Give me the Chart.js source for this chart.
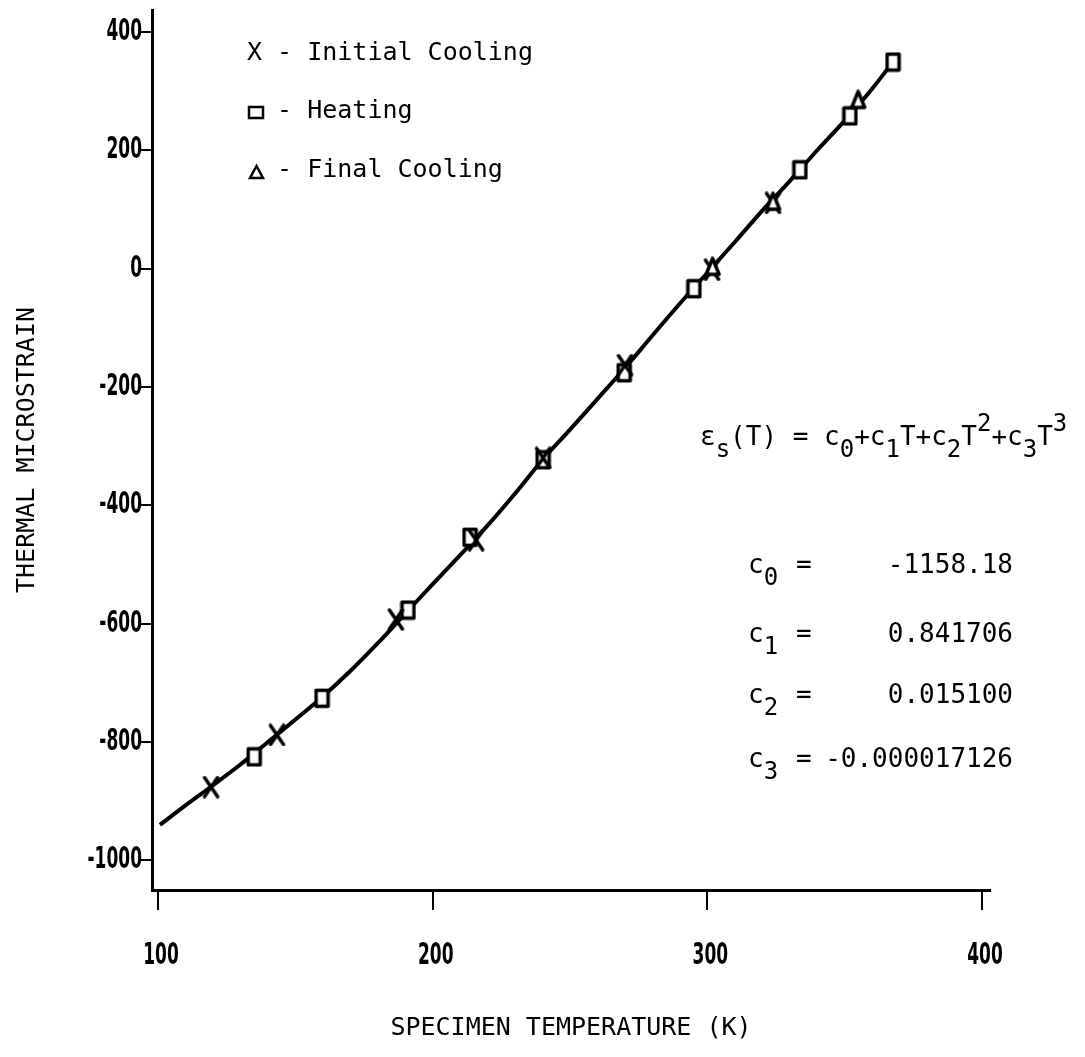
<!DOCTYPE html>
<html>
<head>
<meta charset="utf-8">
<script src="https://cdn.jsdelivr.net/npm/chart.js@4.4.1/dist/chart.umd.min.js"></script>
<style>
  html, body { margin: 0; padding: 0; background: #fff; }
  #wrap { width: 1085px; height: 1057px; position: relative; }
</style>
</head>
<body>
<div id="wrap"><canvas id="chart"></canvas></div>
<script>
'use strict';

// fitted curve
const curveT = [100.7, 110, 120, 130, 140, 150, 160, 170, 180, 190, 200, 210, 220, 230, 240, 250, 260, 270, 280, 290, 300, 310, 320, 330, 340, 350, 360, 368];
const curveStrain = [-940, -907, -873, -838, -800, -762, -723, -680, -633, -583, -533, -484, -434, -380, -323, -272, -220, -168, -113, -59, -7, 45, 98, 148, 200, 250, 304, 352];

// measured points
const coolT = [119.3, 143.3, 186.6, 215.8, 240.2, 270.0, 301.7, 323.9];
const coolStrain = [-876, -788, -593, -459, -320, -163, -2, 111];
const heatT = [135.0, 159.7, 191.0, 213.6, 240.2, 269.7, 295.1, 333.7, 351.9, 367.6];
const heatStrain = [-825, -726, -577, -454, -323, -176, -34, 167, 258, 349];
const finalT = [301.9, 323.9, 354.9];
const finalStrain = [3, 113, 285];

const xTicks = [100, 200, 300, 400];
const yTicks = [400, 200, 0, -200, -400, -600, -800, -1000];

const coefNames = ['0', '1', '2', '3'];
const coefValues = ['-1158.18', '0.841706', '0.015100', '-0.000017126'];

const MONO = '"DejaVu Sans Mono", "Liberation Mono", monospace';

const toPoints = (xs, ys) => xs.map((x, i) => ({ x: x, y: ys[i] }));

// hand-drawn looking markers
function markerCanvas(w, h, draw) {
    const c = document.createElement('canvas');
    c.width = w;
    c.height = h;
    const g = c.getContext('2d');
    g.strokeStyle = '#000';
    g.fillStyle = '#fff';
    g.lineWidth = 3.5;
    g.lineCap = 'round';
    g.lineJoin = 'round';
    draw(g, w, h);
    return c;
}
const boxMark = markerCanvas(17, 21, (g, w, h) => {
    g.fillRect(2, 2, w - 4, h - 4);
    g.strokeRect(2.5, 2.5, w - 5, h - 5);
});
const crossMark = markerCanvas(19, 23, (g, w, h) => {
    g.beginPath();
    g.moveTo(3, 2); g.lineTo(w - 3, h - 2);
    g.moveTo(w - 3, 2); g.lineTo(3, h - 2);
    g.stroke();
});
const triMark = markerCanvas(19, 21, (g, w, h) => {
    g.beginPath();
    g.moveTo(w / 2, 2); g.lineTo(w - 3, h - 3); g.lineTo(3, h - 3);
    g.closePath();
    g.fill();
    g.stroke();
});

// tick labels: tall, narrow bold digits, placed through the scales
const squeezedTicks = {
    id: 'squeezedTicks',
    afterDraw(chart) {
        const { ctx, scales } = chart;
        ctx.save();
        ctx.fillStyle = '#000';
        ctx.font = 'bold 31px "DejaVu Sans", sans-serif';
        ctx.textBaseline = 'middle';
        scales.y.ticks.forEach(t => {
            ctx.save();
            ctx.translate(142, scales.y.getPixelForValue(t.value));
            ctx.scale(0.55, 1);
            ctx.textAlign = 'right';
            ctx.fillText(String(t.value), 0, 0);
            ctx.restore();
        });
        scales.x.ticks.forEach(t => {
            ctx.save();
            ctx.translate(scales.x.getPixelForValue(t.value) + 3, 956);
            ctx.scale(0.55, 1);
            ctx.textAlign = 'center';
            ctx.fillText(String(t.value), 0, 0);
            ctx.restore();
        });
        ctx.restore();
    }
};

const notes = {
    id: 'notes',
    afterDraw(chart) {
        const ctx = chart.ctx;
        const main = '26px ' + MONO;
        const small = '24px ' + MONO;
        ctx.save();
        ctx.fillStyle = '#000';
        ctx.strokeStyle = '#000';
        ctx.textBaseline = 'alphabetic';

        // legend
        ctx.font = '25px ' + MONO;
        ctx.fillText('X - Initial Cooling', 247, 60);
        ctx.fillText('  - Heating', 247, 118);
        ctx.fillText('  - Final Cooling', 247, 177);
        ctx.lineWidth = 2.5;
        ctx.strokeRect(249, 107, 14, 11);
        ctx.beginPath();
        ctx.moveTo(250, 178);
        ctx.lineTo(263, 178);
        ctx.lineTo(256.5, 166);
        ctx.closePath();
        ctx.stroke();

        // equation
        const run = (parts, x, y) => {
            for (const [t, kind] of parts) {
                ctx.font = kind ? small : main;
                const dy = kind === 'sub' ? 12 : kind === 'sup' ? -14 : 0;
                ctx.fillText(t, x, y + dy);
                x += ctx.measureText(t).width;
            }
            return x;
        };
        run([['ε'], ['s', 'sub'], ['(T) = c'], ['0', 'sub'], ['+c'], ['1', 'sub'], ['T+c'], ['2', 'sub'],
             ['T'], ['2', 'sup'], ['+c'], ['3', 'sub'], ['T'], ['3', 'sup']], 700, 445);

        const rows = [573, 642, 703, 767];
        coefNames.forEach((n, i) => {
            ctx.textAlign = 'left';
            run([['c'], [n, 'sub']], 748, rows[i]);
            ctx.font = main;
            ctx.fillText('=', 796, rows[i]);
            ctx.textAlign = 'right';
            ctx.fillText(coefValues[i], 1013, rows[i]);
        });
        ctx.restore();
    }
};

function renderChart() {
    const ctx = document.getElementById('chart').getContext('2d');
    const titleFont = { family: MONO, size: 25 };

    new Chart(ctx, {
        type: 'scatter',
        data: {
            datasets: [
                {
                    type: 'line',
                    label: 'fit',
                    data: toPoints(curveT, curveStrain),
                    borderColor: '#000',
                    borderWidth: 4,
                    pointRadius: 0,
                    cubicInterpolationMode: 'monotone',
                    fill: false,
                    order: 5
                },
                {
                    label: 'Heating',
                    data: toPoints(heatT, heatStrain),
                    pointStyle: boxMark,
                    pointRadius: 9,
                    order: 2
                },
                {
                    label: 'Initial Cooling',
                    data: toPoints(coolT, coolStrain),
                    pointStyle: crossMark,
                    pointRadius: 9,
                    order: 1
                },
                {
                    label: 'Final Cooling',
                    data: toPoints(finalT, finalStrain),
                    pointStyle: triMark,
                    pointRadius: 9,
                    order: 0
                }
            ]
        },
        options: {
            responsive: true,
            maintainAspectRatio: false,
            animation: false,
            layout: { padding: { left: 0, top: 10, right: 95, bottom: 0 } },
            plugins: { legend: { display: false }, tooltip: { enabled: false } },
            scales: {
                x: {
                    type: 'linear',
                    min: 97.8,
                    max: 402.9,
                    afterBuildTicks: s => { s.ticks = xTicks.map(v => ({ value: v })); },
                    afterFit: s => { s.height = 167; },
                    grid: { drawOnChartArea: false, drawTicks: true, tickLength: 20, color: '#000', lineWidth: 2 },
                    border: { color: '#000', width: 3 },
                    ticks: { display: false },
                    title: { display: true, text: 'SPECIMEN TEMPERATURE (K)', color: '#000', font: titleFont, padding: { top: 0, bottom: 14 } }
                },
                y: {
                    type: 'linear',
                    min: -1050,
                    max: 437,
                    afterBuildTicks: s => { s.ticks = yTicks.map(v => ({ value: v })); },
                    afterFit: s => { s.width = 152; },
                    grid: { drawOnChartArea: false, drawTicks: true, tickLength: 12, color: '#000', lineWidth: 2 },
                    border: { color: '#000', width: 3 },
                    ticks: { display: false },
                    title: { display: true, text: 'THERMAL MICROSTRAIN', color: '#000', font: titleFont, padding: { top: 12, bottom: 0 } }
                }
            }
        },
        plugins: [squeezedTicks, notes]
    });
}

renderChart();
</script>
</body>
</html>
